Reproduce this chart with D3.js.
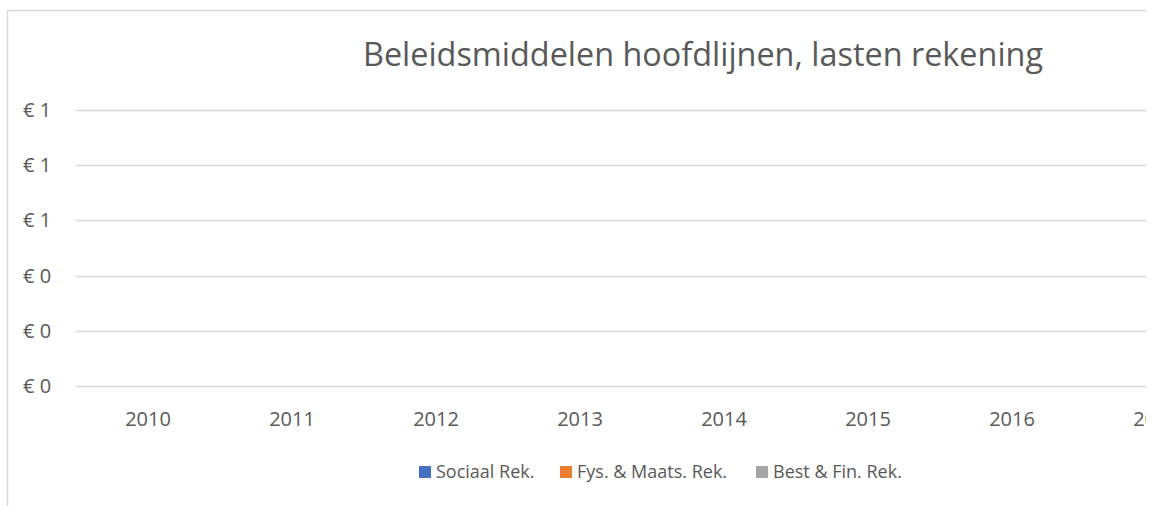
<!DOCTYPE html>
<html>
<head>
<meta charset="utf-8">
<script src="https://cdn.jsdelivr.net/npm/d3@7"></script>
<style>
  body { margin: 0; background: #fff; overflow: hidden; }
  text { font-family: "Open Sans", sans-serif; fill: #595959; }
</style>
</head>
<body>
<div id="chart"></div>
<script>
var WIDTH = 1157;
var HEIGHT = 506;
var CLIP_X = 1146;

var years = ["2010", "2011", "2012", "2013", "2014", "2015", "2016", "2017"];
var seriesNames = ["Sociaal Rek.", "Fys. & Maats. Rek.", "Best & Fin. Rek."];
var seriesColors = ["#4472C4", "#ED7D31", "#A5A5A5"];
// no values filled in the source sheet, every bar is zero
var sociaal = [0, 0, 0, 0, 0, 0, 0, 0];
var fysMaats = [0, 0, 0, 0, 0, 0, 0, 0];
var bestFin = [0, 0, 0, 0, 0, 0, 0, 0];
var yTicks = [0, 0.2, 0.4, 0.6, 0.8, 1.0];

var svg = d3.select("#chart").append("svg")
    .attr("width", WIDTH)
    .attr("height", HEIGHT);

// chart is cut off on the right
svg.append("clipPath").attr("id", "cut")
    .append("rect").attr("x", 0).attr("y", 0)
    .attr("width", CLIP_X).attr("height", HEIGHT);

var g = svg.append("g").attr("clip-path", "url(#cut)");

// chart area border
g.append("rect")
    .attr("x", 7.5).attr("y", 10.5)
    .attr("width", 1400).attr("height", 600)
    .attr("fill", "none")
    .attr("stroke", "#D9D9D9")
    .attr("stroke-width", 1.5);

var x = d3.scaleBand().domain(years).range([76, 1228]).paddingInner(0.3).paddingOuter(0.15);
var xOuter = d3.scaleBand().domain(years).range([76, 1228]);
var y = d3.scaleLinear().domain([0, 1]).range([386, 110]);

// gridlines
g.append("g").selectAll("line")
    .data(yTicks)
    .enter().append("line")
    .attr("x1", 76).attr("x2", 1228)
    .attr("y1", function(d) { return Math.round(y(d)) + 0.5; })
    .attr("y2", function(d) { return Math.round(y(d)) + 0.5; })
    .attr("stroke", "#D9D9D9")
    .attr("stroke-width", 1.5);

// y axis labels
var fmt = d3.format(".0f");
g.append("g").selectAll("text")
    .data(yTicks)
    .enter().append("text")
    .attr("x", 23)
    .attr("y", function(d) { return y(d); })
    .attr("dy", "0.35em")
    .attr("font-size", 20)
    .text(function(d) { return "\u20AC " + fmt(d); });

// x axis labels
g.append("g").selectAll("text")
    .data(years)
    .enter().append("text")
    .attr("x", function(d) { return xOuter(d) + xOuter.bandwidth() / 2; })
    .attr("y", 426)
    .attr("text-anchor", "middle")
    .attr("font-size", 20)
    .text(function(d) { return d; });

// bars (all zero height)
var allSeries = [sociaal, fysMaats, bestFin];
var xSub = d3.scaleBand().domain(d3.range(allSeries.length)).range([0, x.bandwidth()]);
allSeries.forEach(function(vals, si) {
    g.append("g").selectAll("rect")
        .data(vals)
        .enter().append("rect")
        .attr("x", function(d, i) { return x(years[i]) + xSub(si); })
        .attr("y", function(d) { return y(d); })
        .attr("width", xSub.bandwidth())
        .attr("height", function(d) { return y(0) - y(d); })
        .attr("fill", seriesColors[si]);
});

// title
g.append("text")
    .attr("x", 703)
    .attr("y", 66)
    .attr("text-anchor", "middle")
    .attr("font-size", 32.4)
    .text("Beleidsmiddelen hoofdlijnen, lasten rekening");

// legend
var legendX = [419, 560, 756];
var legend = g.append("g").selectAll("g")
    .data(seriesNames)
    .enter().append("g")
    .attr("transform", function(d, i) { return "translate(" + legendX[i] + ",466)"; });
legend.append("rect")
    .attr("width", 12).attr("height", 12)
    .attr("fill", function(d, i) { return seriesColors[i]; });
legend.append("text")
    .attr("x", 17).attr("y", 6)
    .attr("dy", "0.35em")
    .attr("font-size", 18)
    .text(function(d) { return d; });
</script>
</body>
</html>
